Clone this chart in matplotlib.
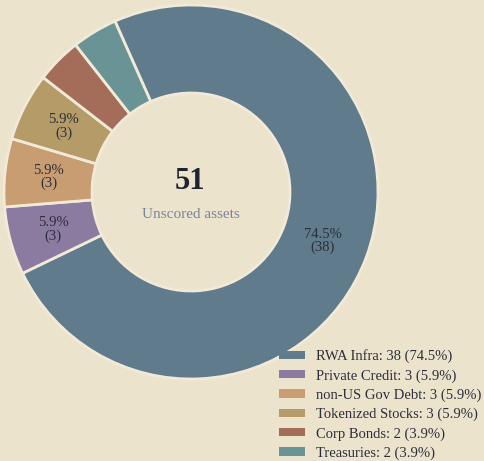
import numpy as np
import matplotlib.pyplot as plt
from matplotlib.patches import Patch

# datos del gráfico
categorias = ["RWA Infra", "Private Credit", "non-US Gov Debt",
              "Tokenized Stocks", "Corp Bonds", "Treasuries"]
valores = [38, 3, 3, 3, 2, 2]
colores = ["#5f7b8c", "#8b7ba0", "#c99d72", "#b59b68", "#a36d5a", "#6a9396"]
total = sum(valores)
etiqueta_centro = "Unscored assets"

fondo = "#ece3cd"
serif = ["Liberation Serif", "DejaVu Serif"]

fig = plt.figure(figsize=(4.85, 4.61), dpi=100, facecolor=fondo)
ax = fig.add_axes([0, 0, 1, 1])
ax.set_facecolor(fondo)

cx, cy, r = 191, 269, 187
ancho = 88
wedges, _ = ax.pie(valores, colors=colores, startangle=114, counterclock=False,
                   center=(cx, cy), radius=r,
                   wedgeprops=dict(width=ancho, edgecolor="#f2ead8", linewidth=2))
ax.set_xlim(0, 485)
ax.set_ylim(0, 461)
ax.set_aspect("equal")
ax.axis("off")

# etiquetas dentro del anillo (solo las porciones de 3 o más)
for w, v in zip(wedges, valores):
    if v < 3:
        continue
    ang = np.deg2rad((w.theta1 + w.theta2) / 2)
    rr = r - ancho / 2
    x = cx + rr * np.cos(ang)
    y = cy + rr * np.sin(ang)
    if v == 38:
        x, y = cx + 132, cy - 49
    ax.text(x, y, f"{v / total * 100:.1f}%\n({v})", ha="center", va="center",
            fontsize=10.5, color="#2b2f3a", family=serif, linespacing=1.0)

ax.text(cx - 1, cy + 11, str(total), ha="center", va="center", fontsize=22,
        fontweight="bold", color="#1f2230", family=serif)
ax.text(cx, cy - 22, etiqueta_centro, ha="center", va="center", fontsize=11,
        color="#7a8499", family=serif)

handles = [Patch(facecolor=c, edgecolor="none") for c in colores]
labels = [f"{n}: {v} ({v / total * 100:.1f}%)" for n, v in zip(categorias, valores)]
fig.legend(handles, labels, loc="lower right", bbox_to_anchor=(1.01, -0.015),
           frameon=False, prop=dict(family=serif, size=10.5), labelcolor="#2b2f3a",
           handlelength=1.8, handleheight=0.5, handletextpad=0.8,
           labelspacing=0.4, borderaxespad=0.15)

fig.savefig("out.png", dpi=100, facecolor=fondo)
